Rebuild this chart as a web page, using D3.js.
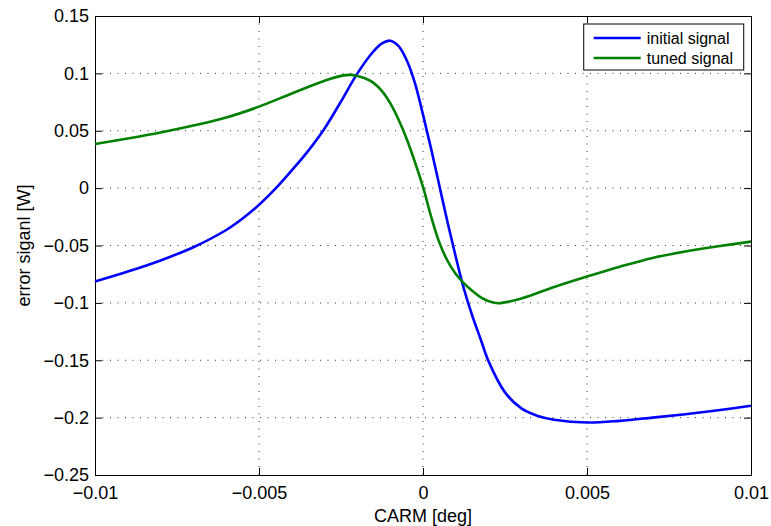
<!DOCTYPE html>
<html>
<head>
<meta charset="utf-8">
<script src="https://cdn.jsdelivr.net/npm/d3@7"></script>
<style>
  body { margin: 0; background: #fff; }
  svg { font-family: "Liberation Sans", Arial, Helvetica, sans-serif; }
</style>
</head>
<body>
<svg id="chart" width="771" height="526"></svg>
<script>
// CARM offset [deg] and error signal [W]
var carmInitial = [-0.01, -0.009, -0.008, -0.007, -0.006, -0.0055, -0.005, -0.0045, -0.004, -0.0035,
                   -0.003, -0.0025, -0.002, -0.0015, -0.00125, -0.001, -0.00075, -0.0005, -0.00025, 0,
                   0.00025, 0.0005, 0.00075, 0.001, 0.00125, 0.0015, 0.00175, 0.002, 0.0025, 0.003,
                   0.0035, 0.004, 0.005, 0.006, 0.007, 0.008, 0.009, 0.01];
var initialSignal = [-0.0814, -0.0727, -0.0630, -0.0515, -0.0365, -0.0265, -0.0146, -0.0005, 0.0155, 0.0325,
                     0.052, 0.0755, 0.100, 0.1195, 0.1262, 0.1285, 0.1240, 0.1117, 0.092, 0.064,
                     0.034, 0.002, -0.030, -0.060, -0.088, -0.111, -0.131, -0.151, -0.178, -0.192,
                     -0.1985, -0.2018, -0.2043, -0.2028, -0.2000, -0.1970, -0.1935, -0.1897];

var carmTuned = [-0.01, -0.009, -0.008, -0.007, -0.006, -0.005, -0.004, -0.003, -0.0025, -0.0022,
                 -0.002, -0.00175, -0.0015, -0.00125, -0.001, -0.00075, -0.0005, -0.00025, 0, 0.00025,
                 0.0005, 0.00075, 0.001, 0.00125, 0.0015, 0.00175, 0.002, 0.0023, 0.003, 0.004,
                 0.005, 0.006, 0.007, 0.008, 0.009, 0.01];
var tunedSignal = [0.0385, 0.0433, 0.0485, 0.0545, 0.0615, 0.071, 0.0825, 0.0936, 0.0978, 0.0987,
                   0.0978, 0.0955, 0.0915, 0.0845, 0.074, 0.060, 0.043, 0.023, 0.001, -0.025,
                   -0.0475, -0.0635, -0.0748, -0.083, -0.0895, -0.095, -0.0985, -0.1003, -0.0962, -0.0862,
                   -0.0771, -0.0685, -0.0608, -0.0552, -0.0507, -0.0466];

var xTicks = [-0.01, -0.005, 0, 0.005, 0.01];
var xTickLabels = ["\u22120.01", "\u22120.005", "0", "0.005", "0.01"];
var yTicks = [0.15, 0.1, 0.05, 0, -0.05, -0.1, -0.15, -0.2, -0.25];
var yTickLabels = ["0.15", "0.1", "0.05", "0", "\u22120.05", "\u22120.1", "\u22120.15", "\u22120.2", "\u22120.25"];

var seriesNames = ["initial signal", "tuned signal"];
var seriesColors = ["#0000ff", "#008000"];

var svg = d3.select("#chart"),
    margin = {top: 16, right: 20, bottom: 51, left: 95},
    width = +svg.attr("width") - margin.left - margin.right,
    height = +svg.attr("height") - margin.top - margin.bottom;

var g = svg.append("g").attr("transform", "translate(" + margin.left + "," + margin.top + ")");

var x = d3.scaleLinear().domain([-0.01, 0.01]).range([0, width]);
var y = d3.scaleLinear().domain([-0.25, 0.15]).range([height, 0]);

// dotted grid
g.append("g").selectAll("line")
  .data(xTicks.slice(1, -1))
  .enter().append("line")
    .attr("x1", function(d) { return x(d); })
    .attr("x2", function(d) { return x(d); })
    .attr("y1", 0).attr("y2", height)
    .attr("stroke", "#333").attr("stroke-width", 1)
    .attr("stroke-dasharray", "1,6.5");
g.append("g").selectAll("line")
  .data(yTicks.slice(1, -1))
  .enter().append("line")
    .attr("y1", function(d) { return y(d); })
    .attr("y2", function(d) { return y(d); })
    .attr("x1", 0).attr("x2", width)
    .attr("stroke", "#333").attr("stroke-width", 1)
    .attr("stroke-dasharray", "1,6.5");

// axes, ticks inside, MATLAB style box
var tickLen = 7;
g.append("g")
  .attr("transform", "translate(0," + height + ")")
  .call(d3.axisBottom(x).tickValues(xTicks).tickSizeInner(-tickLen).tickSizeOuter(0)
    .tickPadding(11).tickFormat(function(d, i) { return xTickLabels[i]; }));
g.append("g")
  .call(d3.axisTop(x).tickValues(xTicks).tickSizeInner(-tickLen).tickSizeOuter(0).tickFormat(""));
g.append("g")
  .call(d3.axisLeft(y).tickValues(yTicks).tickSizeInner(-tickLen).tickSizeOuter(0)
    .tickPadding(6).tickFormat(function(d, i) { return yTickLabels[i]; }));
g.append("g")
  .attr("transform", "translate(" + width + ",0)")
  .call(d3.axisRight(y).tickValues(yTicks).tickSizeInner(-tickLen).tickSizeOuter(0).tickFormat(""));

g.selectAll(".domain").attr("stroke", "#000");
g.selectAll(".tick line").attr("stroke", "#000");
g.selectAll(".tick text").attr("font-size", 18).attr("fill", "#000")
  .style("font-family", "'Liberation Sans', Arial, sans-serif");

var line = d3.line()
  .x(function(d) { return x(d[0]); })
  .y(function(d) { return y(d[1]); })
  .curve(d3.curveCatmullRom.alpha(0.5));

var series = [
  d3.zip(carmInitial, initialSignal),
  d3.zip(carmTuned, tunedSignal)
];

g.selectAll(".series")
  .data(series)
  .enter().append("path")
    .attr("class", "series")
    .attr("d", line)
    .attr("fill", "none")
    .attr("stroke", function(d, i) { return seriesColors[i]; })
    .attr("stroke-width", 2.6);

// axis labels
svg.append("text")
  .attr("x", margin.left + width / 2).attr("y", 522)
  .attr("text-anchor", "middle").attr("font-size", 18)
  .text("CARM [deg]");
svg.append("text")
  .attr("transform", "translate(30," + (margin.top + height / 2) + ") rotate(-90)")
  .attr("text-anchor", "middle").attr("font-size", 18)
  .text("error siganl [W]");

// legend
var legend = g.append("g").attr("transform", "translate(" + x(0.0049) + ",8)");
legend.append("rect")
  .attr("width", 160).attr("height", 46)
  .attr("fill", "#fff").attr("stroke", "#000").attr("stroke-width", 1);
var items = legend.selectAll(".item")
  .data(seriesNames)
  .enter().append("g")
    .attr("transform", function(d, i) { return "translate(0," + (14 + i * 20) + ")"; });
items.append("line")
  .attr("x1", 10).attr("x2", 57)
  .attr("stroke", function(d, i) { return seriesColors[i]; })
  .attr("stroke-width", 2.6);
items.append("text")
  .attr("x", 63).attr("dy", "0.35em")
  .attr("font-size", 16)
  .text(function(d) { return d; });
</script>
</body>
</html>
